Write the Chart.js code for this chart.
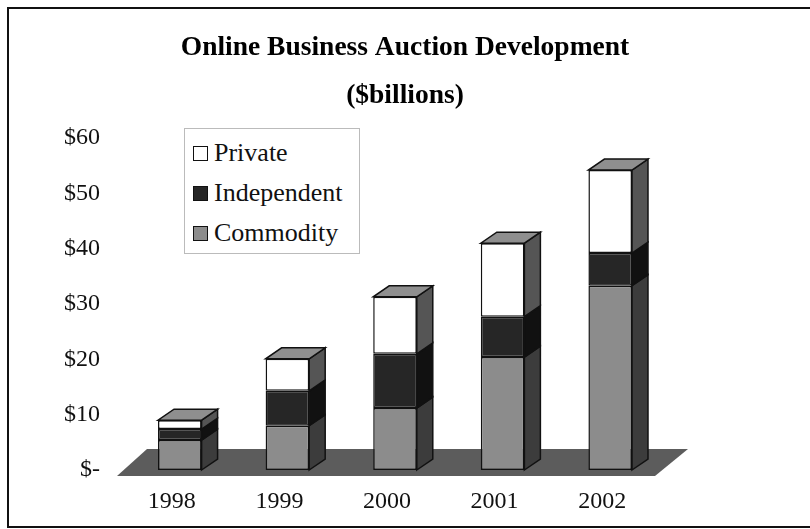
<!DOCTYPE html>
<html>
<head>
<meta charset="utf-8">
<script src="https://cdn.jsdelivr.net/npm/chart.js@4/dist/chart.umd.min.js"></script>
<style>
  body { margin: 0; background: #fff; }
  #wrap { position: relative; width: 810px; height: 529px; }
  #legend {
    position: absolute; left: 184px; top: 128px; width: 176px; height: 126px;
    border: 1px solid #bbb; background: #fff; box-sizing: border-box;
    font-family: "Liberation Serif", "Times New Roman", serif; font-size: 26px; color: #111;
    padding: 4px 0 0 8px;
  }
  .item { height: 40px; display: flex; align-items: center; white-space: nowrap; }
  .sw { width: 15px; height: 15px; border: 1.5px solid #111; box-sizing: border-box; margin-right: 6px; }
</style>
</head>
<body>
<div id="wrap">
  <canvas id="chart" width="810" height="529"></canvas>
  <div id="legend"></div>
</div>
<script>
// data ($ billions)
const years = ["1998", "1999", "2000", "2001", "2002"];
const commodity = [5.4, 8.0, 11.2, 20.4, 33.3];
const independent = [2.0, 6.3, 9.8, 7.3, 5.9];
const privateAuctions = [1.6, 5.8, 10.3, 13.3, 15.0];
const yTicks = [0, 10, 20, 30, 40, 50, 60];
const titleLines = ["Online Business Auction Development", "($billions)"];

const colors = { Commodity: "#8c8c8c", Independent: "#262626", Private: "#ffffff" };
const sideColors = { Commodity: "#3c3c3c", Independent: "#111111", Private: "#555555" };

// legend, top to bottom like the original
const legend = document.getElementById("legend");
["Private", "Independent", "Commodity"].forEach((name) => {
  const row = document.createElement("div");
  row.className = "item";
  row.innerHTML = `<span class="sw" style="background:${colors[name]}"></span>${name}`;
  legend.appendChild(row);
});

const serif = "'Liberation Serif', 'Times New Roman', serif";

// fake 3D: frame, title, floor, side faces and top faces
const DX = 16, DY = -11;
const threeD = {
  id: "threeD",
  beforeDraw(chart) {
    const ctx = chart.ctx;
    ctx.save();
    ctx.fillStyle = "#fff";
    ctx.fillRect(0, 0, chart.width, chart.height);
    ctx.strokeStyle = "#111";
    ctx.lineWidth = 2;
    ctx.beginPath();
    ctx.moveTo(820, 8);
    ctx.lineTo(8, 8);
    ctx.lineTo(8, 527);
    ctx.lineTo(820, 527);
    ctx.stroke();
    ctx.fillStyle = "#000";
    ctx.font = "bold 27.5px " + serif;
    ctx.textAlign = "center";
    ctx.textBaseline = "middle";
    ctx.fillText(titleLines[0], 405, 48);
    ctx.fillText(titleLines[1], 405, 96);
    ctx.restore();
  },
  beforeDatasetsDraw(chart) {
    const ctx = chart.ctx;
    const area = chart.chartArea;
    const y0 = chart.scales.y.getPixelForValue(0);
    ctx.save();
    ctx.fillStyle = "#5c5c5c";
    ctx.beginPath();
    ctx.moveTo(area.left - 9, y0 + 6);
    ctx.lineTo(area.right - 9, y0 + 6);
    ctx.lineTo(area.right + 24, y0 - 21);
    ctx.lineTo(area.left + 21, y0 - 21);
    ctx.closePath();
    ctx.fill();
    ctx.restore();
  },
  afterDatasetsDraw(chart) {
    const ctx = chart.ctx;
    ctx.save();
    ctx.strokeStyle = "#111";
    ctx.lineWidth = 1.5;
    const n = chart.data.datasets.length;
    chart.data.datasets.forEach((ds, di) => {
      const meta = chart.getDatasetMeta(di);
      meta.data.forEach((bar) => {
        const p = bar.getProps(["x", "y", "base", "width"], true);
        const r = p.x + p.width / 2;
        const l = p.x - p.width / 2;
        ctx.fillStyle = sideColors[ds.label];
        ctx.beginPath();
        ctx.moveTo(r, p.base);
        ctx.lineTo(r + DX, p.base + DY);
        ctx.lineTo(r + DX, p.y + DY);
        ctx.lineTo(r, p.y);
        ctx.closePath();
        ctx.fill();
        ctx.stroke();
        if (di === n - 1) {
          ctx.fillStyle = "#8f8f8f";
          ctx.beginPath();
          ctx.moveTo(l, p.y);
          ctx.lineTo(r, p.y);
          ctx.lineTo(r + DX, p.y + DY);
          ctx.lineTo(l + DX, p.y + DY);
          ctx.closePath();
          ctx.fill();
          ctx.stroke();
        }
      });
    });
    ctx.restore();
  }
};

new Chart(document.getElementById("chart"), {
  type: "bar",
  data: {
    labels: years,
    datasets: [
      { label: "Commodity", data: commodity, backgroundColor: colors.Commodity },
      { label: "Independent", data: independent, backgroundColor: colors.Independent },
      { label: "Private", data: privateAuctions, backgroundColor: colors.Private }
    ].map((d) => ({ ...d, borderColor: "#111", borderWidth: 1.5, borderSkipped: false,
                    barPercentage: 0.81, categoryPercentage: 0.5 }))
  },
  options: {
    responsive: false,
    animation: false,
    layout: { padding: { top: 138, right: 146, bottom: 0, left: 0 } },
    plugins: {
      legend: { display: false },
      tooltip: { enabled: false },
      title: { display: false }
    },
    scales: {
      x: {
        stacked: true,
        afterFit: (scale) => { scale.height = 59; },
        grid: { display: false, drawTicks: false },
        border: { display: false },
        ticks: { color: "#111", font: { family: serif, size: 24 }, padding: 17, labelOffset: -8 }
      },
      y: {
        stacked: true,
        min: 0,
        max: 60,
        afterFit: (scale) => { scale.width = 126; },
        afterBuildTicks: (scale) => { scale.ticks = yTicks.map((v) => ({ value: v })); },
        grid: { display: false, drawTicks: false },
        border: { display: false },
        ticks: {
          color: "#111",
          font: { family: serif, size: 24 },
          padding: 26,
          callback: (v) => (v === 0 ? "$-" : "$" + v)
        }
      }
    }
  },
  plugins: [threeD]
});
</script>
</body>
</html>
